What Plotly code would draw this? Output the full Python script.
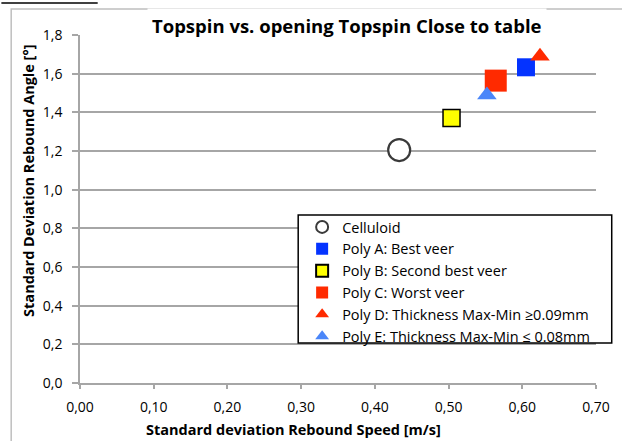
import plotly.graph_objects as go

# ---- data ----
series_names = [
    "Celluloid",
    "Poly A: Best veer",
    "Poly B: Second best veer",
    "Poly C: Worst veer",
    "Poly D: Thickness Max-Min ≥0.09mm",
    "Poly E: Thickness Max-Min ≤ 0.08mm",
]
speed_sd = [0.433, 0.605, 0.504, 0.564, 0.624, 0.552]
angle_sd = [1.205, 1.633, 1.371, 1.564, 1.69, 1.49]

x_ticks = [0.0, 0.1, 0.2, 0.3, 0.4, 0.5, 0.6, 0.7]
y_ticks = [0.0, 0.2, 0.4, 0.6, 0.8, 1.0, 1.2, 1.4, 1.6, 1.8]

# ---- styles ----
styles = [
    dict(symbol="circle", size=22, color="white", line=dict(color="#3a3a3a", width=2.2)),
    dict(symbol="square", size=18, color="#0433ff", line=dict(width=0)),
    dict(symbol="square", size=17, color="#ffff00", line=dict(color="black", width=1.5)),
    dict(symbol="square", size=22, color="#ff2a00", line=dict(width=0)),
    dict(symbol="triangle-up", size=17, color="#ff2a00", line=dict(width=0)),
    dict(symbol="triangle-up", size=17, color="#4a86f9", line=dict(width=0)),
]

W, H = 622, 441
L, R, T, B = 80, 17, 35, 58
PW, PH = W - L - R, H - T - B


def px(x):
    return (x - L) / PW


def py(y):
    return (H - B - y) / PH


FONT = "'Open Sans', Lato, sans-serif"

fig = go.Figure()
for name, xv, yv, st in zip(series_names, speed_sd, angle_sd, styles):
    fig.add_trace(go.Scatter(x=[xv], y=[yv], mode="markers", name=name, marker=st))

grid = "#a6a6a6"
fig.update_layout(
    width=W, height=H,
    margin=dict(l=L, r=R, t=T, b=B, pad=0),
    paper_bgcolor="white", plot_bgcolor="white",
    separators=",.",
    font=dict(family=FONT, size=14, color="black"),
    showlegend=True,
    legend=dict(
        x=px(306), y=py(211), xanchor="left", yanchor="top",
        bgcolor="rgba(0,0,0,0)", borderwidth=0,
        font=dict(family=FONT, size=14.5, color="black"),
        itemsizing="constant", tracegroupgap=0,
    ),
    xaxis=dict(
        range=[0, 0.7], tickvals=x_ticks, tickformat=".2f",
        showgrid=False, zeroline=False,
        showline=True, linecolor=grid, linewidth=1.5,
        ticks="outside", ticklen=4, tickcolor=grid, tickwidth=1.5,
        ticklabelstandoff=6,
        tickfont=dict(family=FONT, size=14, color="black"),
    ),
    yaxis=dict(
        range=[0, 1.8], tickvals=y_ticks, tickformat=".1f",
        showgrid=True, gridcolor=grid, gridwidth=1.5, zeroline=False,
        showline=True, linecolor=grid, linewidth=1.5,
        ticks="outside", ticklen=6, tickcolor=grid, tickwidth=1.5,
        ticklabelstandoff=7,
        tickfont=dict(family=FONT, size=14, color="black"),
    ),
    shapes=[
        # chart-area border
        dict(type="rect", xref="paper", yref="paper", x0=px(10), y0=py(460), x1=px(640), y1=py(9),
             line=dict(color="#bfbfbf", width=1.5), fillcolor="rgba(0,0,0,0)", layer="below"),
        # legend box
        dict(type="rect", xref="paper", yref="paper", x0=px(302), y0=py(343), x1=px(621), y1=py(215),
             line=dict(color="black", width=1.5), fillcolor="white", layer="above"),
        # cut-off underline at top-left
        dict(type="line", xref="paper", yref="paper", x0=px(0), y0=py(3), x1=px(98), y1=py(3),
             line=dict(color="black", width=1.5)),
    ],
    annotations=[
        dict(text="<b>Topspin vs. opening Topspin Close to table</b>", xref="paper", yref="paper",
             x=px(352), y=py(26), xanchor="center", yanchor="middle", showarrow=False,
             font=dict(family=FONT, size=18.5, color="black"), bgcolor="white", borderpad=4),
        dict(text="<b>Standard deviation Rebound Speed [m/s]</b>", xref="paper", yref="paper",
             x=px(297), y=py(429), xanchor="center", yanchor="middle", showarrow=False,
             font=dict(family=FONT, size=14.5, color="black")),
        dict(text="<b>Standard Deviation Rebound Angle [°]</b>", xref="paper", yref="paper",
             x=px(27), y=py(181), xanchor="center", yanchor="middle", showarrow=False,
             textangle=-90, font=dict(family=FONT, size=14.5, color="black")),
    ],
)

fig.write_html(
    "out.html",
    config={"displayModeBar": False},
    post_script="document.body.style.margin='0';document.body.style.overflow='hidden';",
)
